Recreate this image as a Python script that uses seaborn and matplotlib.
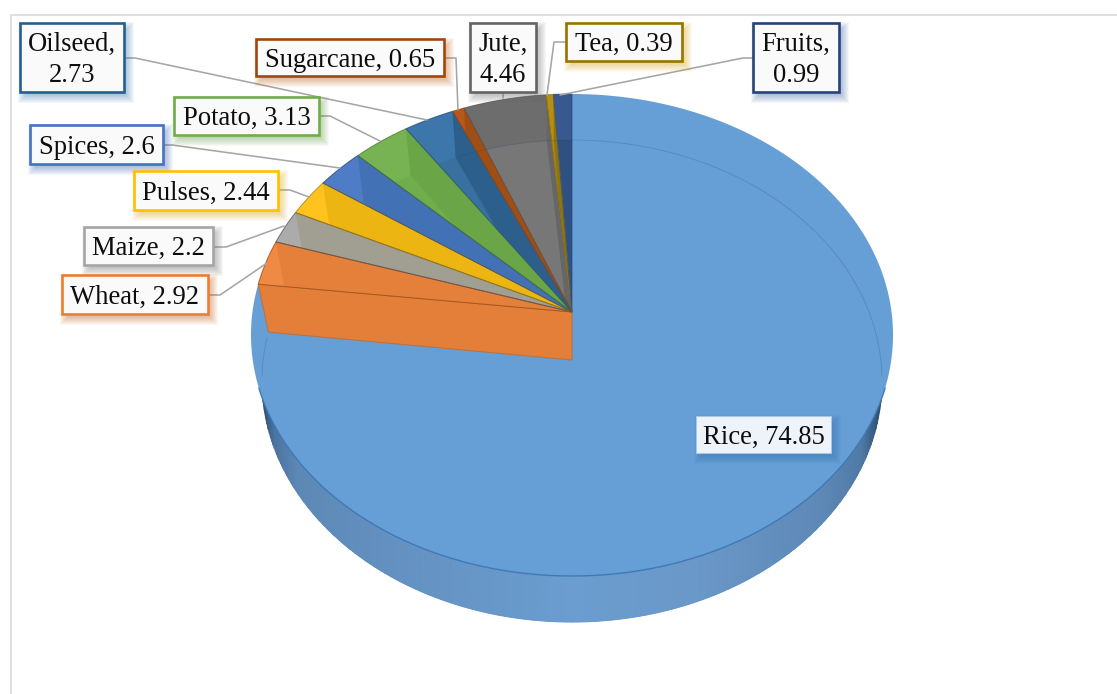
import numpy as np
import matplotlib
matplotlib.use("Agg")
import matplotlib.pyplot as plt
from matplotlib.colors import LinearSegmentedColormap
from matplotlib.patches import Polygon, Rectangle
import seaborn as sns

# Share of area by crop
crops = ["Rice", "Wheat", "Maize", "Pulses", "Spices", "Potato",
         "Oilseed", "Sugarcane", "Jute", "Tea", "Fruits"]
shares = [74.85, 2.92, 2.2, 2.44, 2.6, 3.13, 2.73, 0.65, 4.46, 0.39, 0.99]

# Slice shades: plain top, outer rim, inner wall
top_colors = ["#669FD6", "#E8843C", "#A9A89F", "#F2BA16", "#4A78C0", "#6FAE4A",
              "#38709F", "#B4551A", "#777777", "#AD8A12", "#2F5182"]
rim_colors = ["#669FD6", "#EE8A42", "#ABABAB", "#FFC21E", "#4F7CC6", "#77B352",
              "#3C76AB", "#B9561A", "#6D6D6D", "#B48F12", "#37598F"]
wall_colors = ["#669FD6", "#E5803B", "#A19F92", "#EDB512", "#4272B5", "#6AA547",
               "#2D5F8C", "#A04E14", "#666666", "#8F7510", "#2F5182"]
border_colors = ["#5B9BD5", "#ED7D31", "#A5A5A5", "#FFC000", "#4472C4", "#70AD47",
                 "#255E91", "#9E480E", "#636363", "#997300", "#264478"]

# Label layout in figure pixels: box (x0, y0, x1, y1) and leader line vertices
label_boxes = {
    "Rice": (696, 416, 831, 453), "Wheat": (62, 275, 208, 314),
    "Maize": (84, 227, 213, 265), "Pulses": (134, 171, 278, 210),
    "Spices": (30, 125, 163, 164), "Potato": (174, 97, 319, 135),
    "Oilseed": (20, 23, 124, 92), "Sugarcane": (256, 39, 444, 76),
    "Jute": (470, 23, 536, 92), "Tea": (566, 23, 682, 61),
    "Fruits": (753, 23, 839, 92),
}
leaders = {
    "Wheat": [(208, 295), (220, 295), (267, 263)],
    "Maize": [(213, 247), (226, 247), (284, 226)],
    "Pulses": [(278, 190), (290, 190), (309, 197)],
    "Spices": [(163, 145), (172, 145), (340, 168)],
    "Potato": [(319, 116), (330, 116), (380, 141)],
    "Oilseed": [(124, 58), (135, 58), (427, 120)],
    "Sugarcane": [(444, 58), (456, 58), (458, 110)],
    "Jute": [(503, 92), (503, 98)],
    "Tea": [(566, 42), (554, 42), (547, 95)],
    "Fruits": [(753, 58), (743, 58), (560, 95)],
}
wrapped = {"Oilseed", "Jute", "Fruits"}

sns.set_theme(style="white")
plt.rcParams["font.family"] = ["Liberation Serif", "DejaVu Serif"]

fig = plt.figure(figsize=(11.17, 6.94), dpi=100, facecolor="white")
ax = fig.add_axes([0, 0, 1, 1])
ax.set_xlim(0, 1117)
ax.set_ylim(694, 0)
ax.axis("off")

# Outer frame
ax.plot([10.5, 10.5, 1117], [694, 14.5, 14.5], color="#E0E0E0", lw=1.4, zorder=1)

# Disc geometry: the tilted top face and the smaller base ellipse seen in perspective
CX = 572
TOP = dict(cy=335.0, rx=321.0, ry=241.0, c=0.0954)
BASE = dict(cy=381.0, rx=310.0, ry=241.0, c=0.087)


def project(theta, disc):
    """Map a clockwise-from-north angle on the disc to figure pixels."""
    u, v = np.sin(theta), np.cos(theta)
    den = 1 + disc["c"] * v
    x = u * np.sqrt(1 - disc["c"] ** 2) / den
    y = (v + disc["c"]) / den
    return np.column_stack([CX + disc["rx"] * x, disc["cy"] - disc["ry"] * y])


def apex(disc):
    return np.array([[CX, disc["cy"] - disc["ry"] * disc["c"]]])


def arc(a, b, disc, n=160):
    return project(np.linspace(a, b, max(int(n * (b - a) / np.pi) + 2, 3)), disc)


values = np.asarray(shares, dtype=float)
edges = np.concatenate([[0.0], np.cumsum(values)]) / values.sum() * 2 * np.pi

# Outer side of the drum, shaded darker only close to both ends
side_cmap = LinearSegmentedColormap.from_list(
    "side", [(0.0, "#2E4E74"), (0.018, "#4A73A0"), (0.055, "#5D88B5"), (0.2, "#6390C0"),
             (0.5, "#6B9DD0"), (0.7, "#6A98C8"), (0.91, "#5D88B6"), (0.97, "#4F7AA6"), (1.0, "#2C4A6C")])
xs = np.linspace(CX - BASE["rx"], CX + BASE["rx"], 500)
y_low = BASE["cy"] + BASE["ry"] * np.sqrt(np.clip(1 - ((xs - CX) / BASE["rx"]) ** 2, 0, 1))
y_high = TOP["cy"] + TOP["ry"] * np.sqrt(np.clip(1 - ((xs - CX) / TOP["rx"]) ** 2, 0, 1)) - 6
mesh_x = np.vstack([xs, xs])
mesh_y = np.vstack([y_high, y_low])
mesh_c = np.vstack([(xs - xs[0]) / (xs[-1] - xs[0])] * 2)
ax.pcolormesh(mesh_x, mesh_y, mesh_c, cmap=side_cmap, shading="gouraud", zorder=2)

# Rice, the large slice, with its darker lip along the front edge
rice_outline = np.vstack([apex(TOP), arc(edges[0], edges[1], TOP, 400)])
ax.add_patch(Polygon(rice_outline, closed=True, fc=top_colors[0], ec="none", zorder=3))
ax.plot(*arc(np.pi * 0.6, np.pi * 1.4, TOP, 300).T, color="#3F7AB6", lw=1.0, zorder=3.2)

# Cut face of the wheat slice where it meets rice
cut_face = np.vstack([apex(TOP), project(np.array([edges[1]]), TOP),
                      project(np.array([edges[1]]), BASE), apex(BASE)])
ax.add_patch(Polygon(cut_face, closed=True, fc="#E47F39", ec="#B87442", lw=0.8, zorder=3.3))

# Remaining slices: top face, rim band and inner wall clipped to the slice
for i in range(1, len(crops)):
    a, b = edges[i], edges[i + 1]
    top_arc = arc(a, b, TOP)
    shape = np.vstack([apex(TOP), top_arc])
    face = Polygon(shape, closed=True, fc=top_colors[i], ec="none", zorder=4)
    ax.add_patch(face)
    rim = Polygon(np.vstack([top_arc, arc(a, b, BASE)[::-1]]), closed=True,
                  fc=rim_colors[i], ec="none", zorder=4.1)
    ax.add_patch(rim)
    rim.set_clip_path(face)
    wall = Polygon(np.vstack([apex(TOP), project(np.array([b]), TOP),
                              project(np.array([b]), BASE), apex(BASE)]),
                   closed=True, fc=wall_colors[i], ec="none", zorder=4.2)
    ax.add_patch(wall)
    wall.set_clip_path(face)
    ax.add_patch(Polygon(shape, closed=True, fc="none",
                         ec=sns.set_hls_values(border_colors[i], l=0.32), lw=0.7,
                         alpha=0.7, zorder=4.3))

# Back of the base ellipse showing faintly through the top face
ax.plot(*arc(-np.pi * 0.13, np.pi * 0.52, BASE, 300).T, color="#1F3F66", lw=0.7,
        alpha=0.2, zorder=4.4)
ax.plot(*arc(-np.pi * 0.52, -np.pi * 0.47, BASE, 300).T, color="#1F3F66", lw=0.7,
        alpha=0.2, zorder=4.4)

# Leader lines
for name, points in leaders.items():
    ax.plot(*np.array(points).T, color="#A6A6A6", lw=1.15, zorder=5,
            solid_joinstyle="round")

# Data labels with a soft drop shadow in the slice colour
for i, name in enumerate(crops):
    x0, y0, x1, y1 = label_boxes[name]
    w, h = x1 - x0, y1 - y0
    for grow in np.linspace(6, -2, 9):
        ax.add_patch(Rectangle((x0 + 4 - grow, y0 + 5 - grow), w + 2 * grow, h + 2 * grow,
                               fc=sns.set_hls_values(border_colors[i], l=0.42),
                               ec="none", alpha=0.05, zorder=6))
    if name == "Rice":
        ax.add_patch(Rectangle((x0, y0), w, h, fc="#EEF3FA", ec="#A9C7E6", lw=0.7, zorder=7))
    else:
        ax.add_patch(Rectangle((x0, y0), w, h, fc="#FAFAFA", ec=border_colors[i], lw=1.9, zorder=7))
    sep = "\n" if name in wrapped else " "
    ax.text((x0 + x1) / 2, (y0 + y1) / 2 + 2.5, f"{name},{sep}{shares[i]}", ha="center",
            va="center", fontsize=19.2, color="#0D0D0D", linespacing=1.33, zorder=8)

fig.savefig("out.png", dpi=100, facecolor="white")
